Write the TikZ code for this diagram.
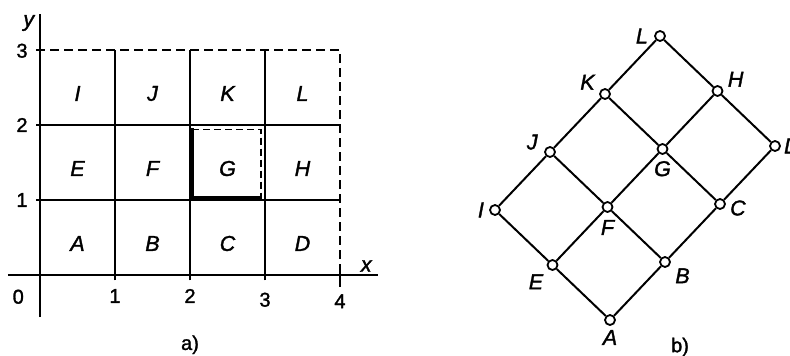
\documentclass[tikz,border=0pt]{standalone}
\usepackage{fontspec}
\setmainfont{Liberation Sans}
\newfontfamily\lblfont[FakeBold=1.5]{Liberation Sans}
\usetikzlibrary{positioning}
\begin{document}
\begin{tikzpicture}[x=1pt,y=1pt,
  lbl/.style={font=\lblfont\fontsize{21.5}{24}\selectfont\itshape, inner sep=0pt},
  num/.style={font=\lblfont\fontsize{20}{22}\selectfont, inner sep=0pt},
  ln/.style={line width=2pt},
  thk/.style={line width=3.6pt},
  dsh/.style={line width=2pt, dash pattern=on 9pt off 5pt},
  vtx/.style={circle, draw, fill=white, line width=1.8pt, minimum size=10pt, inner sep=0pt}]
\useasboundingbox (0,0) rectangle (790,-356);

% ---------- part a ----------
\begin{scope}[shift={(40pt,-275pt)}, x=75pt, y=75pt]
  \draw[ln] (0,-0.56) -- (0,3.48);
  \draw[ln] (-0.43,0) -- (4.5,0);
  \foreach \x in {1,2,3} \draw[ln] (\x,-0.07) -- (\x,3);
  \foreach \y in {1,2} \draw[ln] (-0.05,\y) -- (4,\y);
  \draw[dsh] (-0.05,3) -- (4,3) -- (4,0.06);
  \draw[ln] (4,0.06) -- (4,-0.16);
  % highlighted cell G
  \draw[thk] (2.03,1.96) -- (2.03,1.03) -- (2.96,1.03);
  \draw[line width=1.8pt, dash pattern=on 7pt off 4pt] (2.03,1.94) -- (2.95,1.94) -- (2.95,1.03);
  % cell letters
  \node[lbl] (cA) at (0.5,0.42) {A};
  \node[lbl] (cB) at (1.5,0.42) {B};
  \node[lbl] (cC) at (2.5,0.42) {C};
  \node[lbl] (cD) at (3.5,0.42) {D};
  \node[lbl] (cE) at (0.5,1.42) {E};
  \node[lbl] (cF) at (1.5,1.42) {F};
  \node[lbl] (cG) at (2.5,1.42) {G};
  \node[lbl] (cH) at (3.5,1.42) {H};
  \node[lbl] (cI) at (0.5,2.42) {I};
  \node[lbl] (cJ) at (1.5,2.42) {J};
  \node[lbl] (cK) at (2.5,2.42) {K};
  \node[lbl] (cL) at (3.5,2.42) {L};
  % axis numbers
  \node[num] (n0) at (-0.29,-0.29) {0};
  \node[num] (nx1) at (1,-0.28) {1};
  \node[num] (nx2) at (2,-0.28) {2};
  \node[num] (nx3) at (3,-0.33) {3};
  \node[num] (nx4) at (4,-0.35) {4};
  \node[num] (ny1) at (-0.24,1) {1};
  \node[num] (ny2) at (-0.24,2) {2};
  \node[num] (ny3) at (-0.24,2.99) {3};
  \node[lbl] (ly) at (-0.15,3.36) {y};
  \node[lbl] (lx) at (4.35,0.12) {x};
  \node[num] (capa) at (2,-0.93) {a)};
\end{scope}

% ---------- part b ----------
\begin{scope}[shift={(610pt,-320pt)}, x={(55pt,58pt)}, y={(-57.5pt,55pt)}]
  \node[vtx] (A) at (0,0) {};
  \node[vtx] (B) at (1,0) {};
  \node[vtx] (C) at (2,0) {};
  \node[vtx] (D) at (3,0) {};
  \node[vtx] (E) at (0,1) {};
  \node[vtx] (F) at (1,1) {};
  \node[vtx] (G) at (2,1) {};
  \node[vtx] (H) at (3,1) {};
  \node[vtx] (I) at (0,2) {};
  \node[vtx] (J) at (1,2) {};
  \node[vtx] (K) at (2,2) {};
  \node[vtx] (L) at (3,2) {};
\end{scope}
\foreach \a/\b in {A/B,B/C,C/D,E/F,F/G,G/H,I/J,J/K,K/L,A/E,E/I,B/F,F/J,C/G,G/K,D/H,H/L}
  \draw[ln] (\a) -- (\b);
\node[lbl, left=6pt of L] (tL) {L};
\node[lbl, above right=0pt and 6pt of H] (tH) {H};
\node[lbl, right=3pt of D] (tD) {D};
\node[lbl, above left=0pt and 6pt of K] (tK) {K};
\node[lbl, below=6pt of G] (tG) {G};
\node[lbl, right=4pt of C, yshift=-4pt] (tC) {C};
\node[lbl, above left=-2pt and 8pt of J] (tJ) {J};
\node[lbl, below=7pt of F] (tF) {F};
\node[lbl, below right=2pt and 6pt of B] (tB) {B};
\node[lbl, left=5pt of I] (tI) {I};
\node[lbl, below left=5pt and 5pt of E] (tE) {E};
\node[lbl, below=4pt of A] (tA) {A};
\node[num] (capb) at (680,-347) {b)};
\end{tikzpicture}
\end{document}
